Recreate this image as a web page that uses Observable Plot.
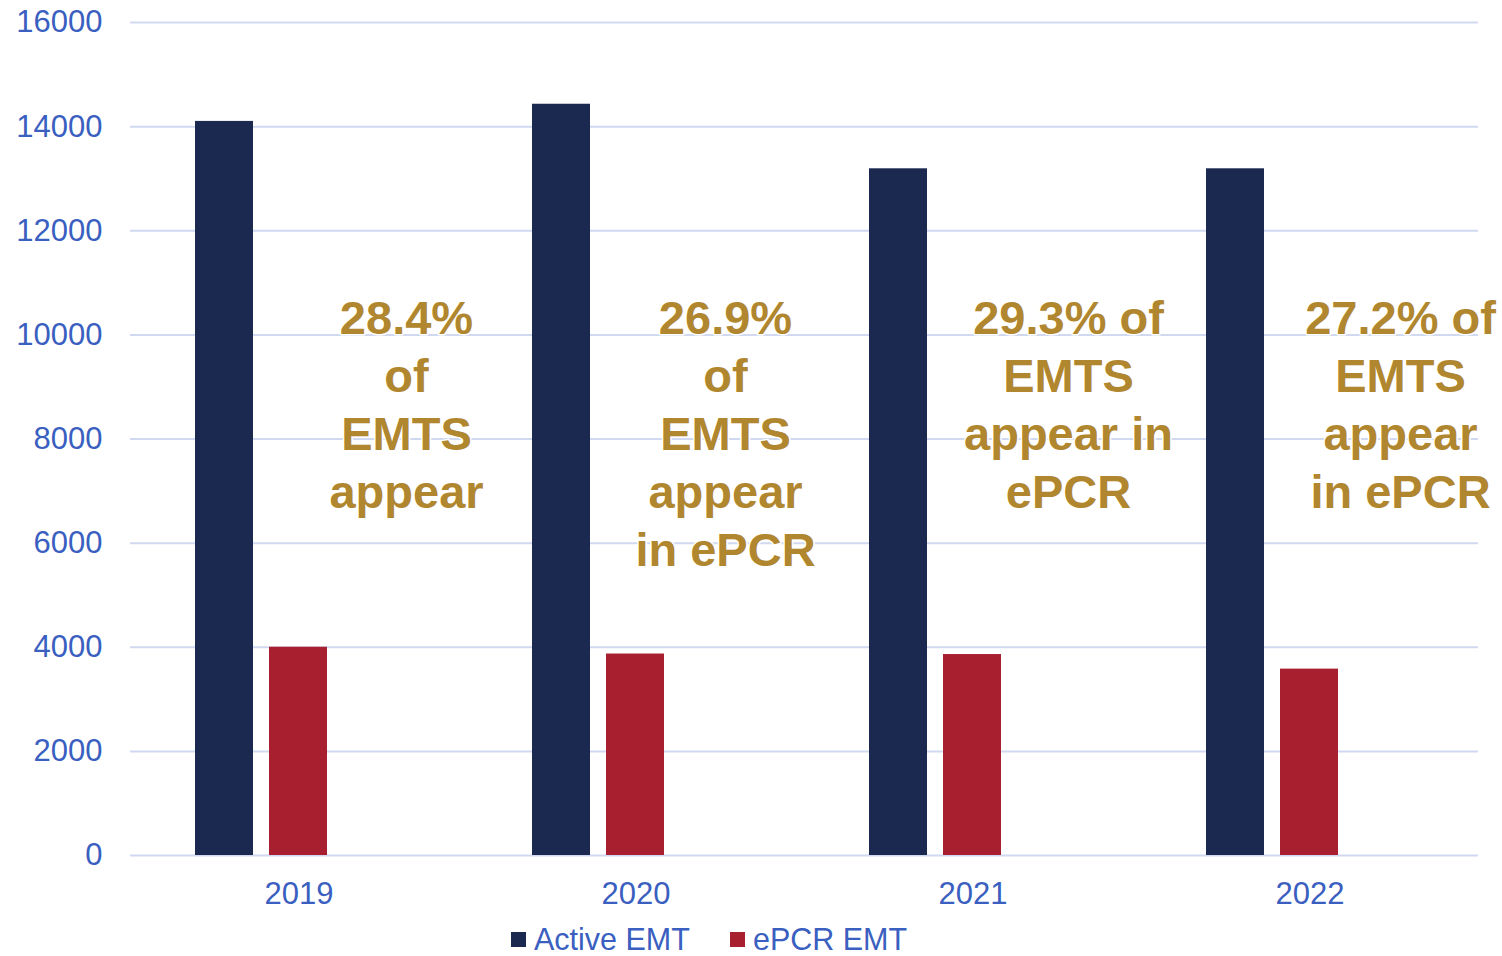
<!DOCTYPE html>
<html>
<head>
<meta charset="utf-8">
<script src="https://cdn.jsdelivr.net/npm/d3@7"></script>
<script src="https://cdn.jsdelivr.net/npm/@observablehq/plot@0.6"></script>
<style>
  html, body { margin: 0; padding: 0; background: #fff; }
  body { width: 1502px; height: 956px; overflow: hidden; font-family: Arial, "Liberation Sans", sans-serif; }
  #chart svg { display: block; }
  #legend { display: flex; align-items: center; margin-left: 511px; margin-top: 11px; height: 26px; font-size: 30.5px; color: #3A5FC0; line-height: 26px; }
  #legend .item { display: flex; align-items: center; margin-right: 40px; }
  #legend .sw { width: 15px; height: 15px; margin-right: 8px; }
</style>
</head>
<body>
<div id="chart"></div>
<div id="legend"></div>
<script>
const years = ["2019", "2020", "2021", "2022"];
const seriesNames = ["Active EMT", "ePCR EMT"];
const activeEMT = [14100, 14430, 13190, 13190];
const epcrEMT = [4000, 3870, 3860, 3580];
const annotationLabels = [
  "28.4%\nof\nEMTS\nappear",
  "26.9%\nof\nEMTS\nappear\nin ePCR",
  "29.3% of\nEMTS\nappear in\nePCR",
  "27.2% of\nEMTS\nappear\nin ePCR"
];
const yTicks = [0, 2000, 4000, 6000, 8000, 10000, 12000, 14000, 16000];

const colors = ["#1B2951", "#A81F2F"];
const gold = "#B0862F";
const blue = "#3A5FC0";
const annotationTop = 10800;
const annotationDx = [34, 16, 22, 17];
const spacer = "_";

const rows = [];
years.forEach((y, i) => {
  rows.push({year: y, series: seriesNames[0], value: activeEMT[i]});
  rows.push({year: y, series: seriesNames[1], value: epcrEMT[i]});
});

const annotationMarks = years.map((y, i) => Plot.text([{year: y, label: annotationLabels[i]}], {
  fx: "year",
  x: () => spacer,
  y: () => annotationTop,
  text: "label",
  fontSize: 47,
  fontWeight: "bold",
  fill: gold,
  stroke: "white",
  strokeWidth: 3,
  lineAnchor: "top",
  lineHeight: 1.234,
  textAnchor: "middle",
  dx: annotationDx[i]
}));

const chart = Plot.plot({
  width: 1502,
  height: 915,
  marginLeft: 130,
  marginRight: 24,
  marginTop: 22,
  marginBottom: 60,
  style: {fontFamily: 'Arial, "Liberation Sans", sans-serif', background: "white"},
  fx: {domain: years, padding: 0, label: null},
  x: {domain: [...seriesNames, spacer], paddingInner: 0.216, paddingOuter: 0.885, axis: null},
  y: {domain: [0, 16000], label: null},
  color: {domain: seriesNames, range: colors},
  marks: [
    Plot.gridY({ticks: yTicks, stroke: "#D0D9F0", strokeOpacity: 1, strokeWidth: 2}),
    Plot.barY(rows, {fx: "year", x: "series", y: "value", fill: "series"}),
    Plot.axisY({ticks: yTicks, tickSize: 0, tickPadding: 28, fontSize: 31, fill: blue, label: null, tickFormat: d => `${d}`}),
    Plot.axisFx({anchor: "bottom", tickSize: 0, tickPadding: 26, fontSize: 31, fill: blue, label: null}),
    ...annotationMarks
  ]
});
document.getElementById("chart").appendChild(chart);

const legend = document.getElementById("legend");
seriesNames.forEach((name, i) => {
  const item = document.createElement("div");
  item.className = "item";
  const sw = document.createElement("div");
  sw.className = "sw";
  sw.style.background = colors[i];
  const label = document.createElement("span");
  label.textContent = name;
  item.appendChild(sw);
  item.appendChild(label);
  legend.appendChild(item);
});
</script>
</body>
</html>
